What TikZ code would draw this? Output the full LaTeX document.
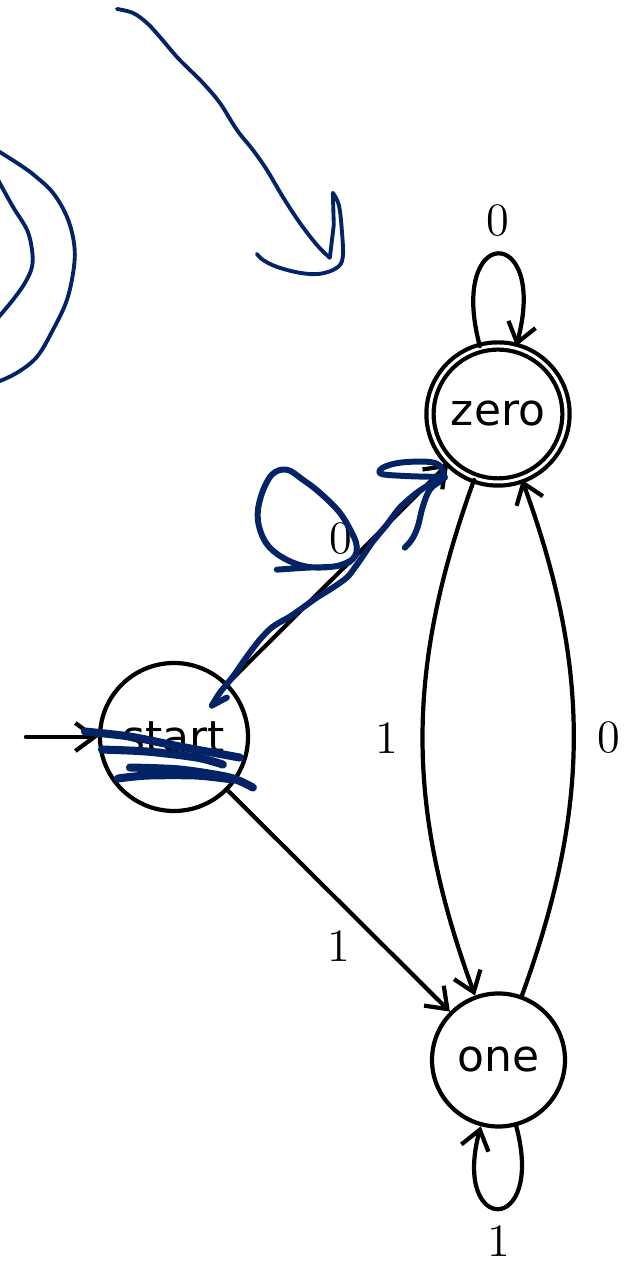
\documentclass[tikz,border=0pt]{standalone}
\usepackage{fontspec}
\newfontfamily\statefont{DejaVu Sans}
\usetikzlibrary{arrows.meta,positioning}
\definecolor{inkblue}{RGB}{2,36,102}
\tikzset{
    lab/.style={
        font=\fontsize{13.2}{16}\selectfont, inner sep=2pt
    }
}

\begin{document}
\begin{tikzpicture}[x=1cm,y=1cm, line cap=round, line join=round,
  >={Straight Barb[length=1.9mm,width=2.8mm]}]

\tikzset{
  st/.style={circle, draw=black, line width=1.2pt, inner sep=1pt, font=\statefont\fontsize{12.5}{15}\selectfont},
  acc/.style={double, double distance=0.85pt},
  edge/.style={->, draw=black, line width=1.2pt},
  ink/.style={draw=inkblue, line width=1.1pt},
  inkthick/.style={draw=inkblue, line width=1.7pt},
  strike/.style={draw=inkblue, line width=2.3pt},
}

\useasboundingbox (0,0) rectangle (6.26,12.62);

\coordinate (S) at (1.74,5.25);
\coordinate (Z) at (4.98,8.48);
\coordinate (O) at (4.985,2.02);

% states
\node[st, minimum size=1.48cm] (start) at (S) {start};
\node[st, acc, minimum size=1.36cm] (zero) at (Z) {zero};
\node[st, minimum size=1.33cm] (one) at (O) {one};

\coordinate[left=0.72cm of start] (init);

% transitions
\draw[edge] (init) -- (start);
\draw[edge] (start) -- node[lab, pos=0.575, anchor=south east, inner sep=0pt] {0} (zero);
\draw[edge] (start) -- node[lab, pos=0.59, below left] {1} (one);
\draw[edge] (zero) to[bend right=20] node[lab, midway, left=0.15cm] {1} (one);
\draw[edge] (one) to[bend right=20] node[lab, midway, right=0.15cm] {0} (zero);
\draw[edge] (zero) to[loop above, looseness=9] node[lab, above=0.08cm] {0} (zero);
\draw[edge] (one) to[loop below, looseness=8.2] node[lab, below=0.08cm] {1} (one);

% handwritten marks (pixel grid)
\begin{scope}[shift={(0,12.62)}, x=0.01cm, y=-0.01cm]
  % arrow at the top
  \draw[ink] plot[smooth, tension=0.6] coordinates {(117,9) (133,13) (147,23) (160,37) (177,57) (190,70) (203,83) (220,103) (237,130) (253,150) (267,170) (283,197) (300,223) (317,245) (330,258)};
  \draw[ink] (330,258) -- (334,225) -- (333,193);
  \draw[ink] plot[smooth, tension=0.6] coordinates {(333,193) (339,205) (342,230) (343,257) (337,268) (320,274) (300,273) (277,267) (263,260) (257,254)};
  % arcs on the left
  \draw[ink] plot[smooth, tension=0.6] coordinates {(-2,151) (20,165) (35,176) (53,193) (67,217) (74,243) (74,267) (67,300) (53,330) (37,357) (17,373) (-2,382)};
  \draw[ink] plot[smooth, tension=0.6] coordinates {(-2,180) (13,207) (27,230) (32,250) (32,267) (25,283) (13,300) (-2,318)};
  % over the 0-edge
  \draw[inkthick] (227,698) -- (212,706);
  \draw[inkthick] plot[smooth, tension=0.5] coordinates {(212,706) (220,693) (233,677) (247,657) (260,640) (273,627) (290,617) (303,608) (317,598) (333,588) (347,578) (355,568) (362,558) (373,542) (387,525) (400,508) (417,493) (433,483) (445,478)};
  \draw[inkthick] plot[smooth, tension=0.6] coordinates {(445,478) (440,466) (427,462) (400,463) (383,468) (381,474) (400,476) (427,477) (445,477)};
  \draw[inkthick] plot[smooth, tension=0.6] coordinates {(440,482) (430,490) (423,507) (418,527) (412,540) (405,548)};
  \draw[inkthick] plot[smooth, tension=0.6] coordinates {(277,570) (307,568) (333,567) (347,563) (355,557) (357,547) (353,535) (340,513) (320,493) (303,480) (287,470) (272,475) (261,497) (258,520) (266,543) (283,558) (307,567) (333,567) (350,562) (357,553)};
  % struck through
  \draw[strike] plot[smooth] coordinates {(85,732) (130,737) (180,747) (240,758)};
  \draw[strike] plot[smooth] coordinates {(102,750) (147,752) (197,758) (223,765)};
  \draw[strike] plot[smooth] coordinates {(130,768) (180,770) (230,778) (253,788)};
  \draw[strike] plot[smooth] coordinates {(118,779) (147,776) (197,776) (233,780)};
\end{scope}

\end{tikzpicture}
\end{document}
